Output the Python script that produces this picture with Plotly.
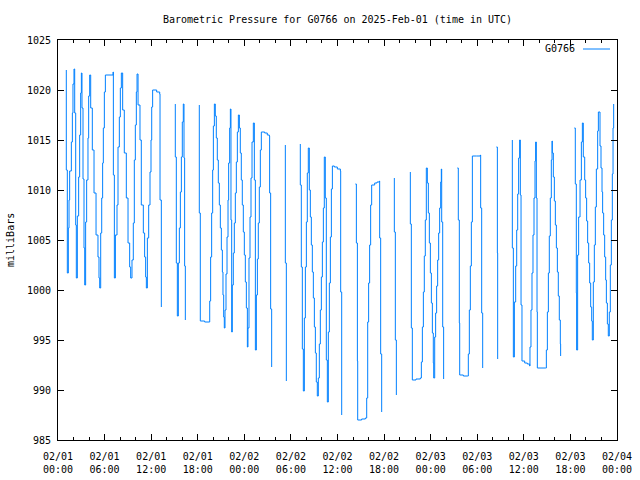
import plotly.graph_objects as go
import pandas as pd

# Time offsets (hours after 2025-02-01 00:00 UTC); None marks a gap in the record
hours = [
    1.07, 1.07, 1.20, 1.33, 1.42, 1.50, 1.72, 1.85, 1.93, 2.06, 2.15, 2.28, 2.36, 2.49, 2.66, 2.79, 2.92, 3.01,
    3.09, 3.22, 3.35, 3.44, 3.56, 3.69, 3.86, 3.95, 4.08, 4.21, 4.42, 4.64, 4.90, 5.15, 5.28, 5.37, 5.50, 5.63,
    5.75, 5.84, 5.97, 6.10, 7.09, 7.13, 7.26, 7.39, 7.60, 7.73, 7.90, 8.03, 8.16, 8.33, 8.54, 8.80, 9.02, 9.23,
    9.36, 9.53, 9.70, 9.83, 9.96, 10.09, 10.18, 10.31, 10.56, 10.73, 10.99, 11.16, 11.29, 11.38, 11.51, 11.68,
    11.85, 11.98, 12.07, 12.19, 12.71, 13.10, 13.14, 13.31, None,
    15.11, 15.11, 15.24, 15.37, 15.50, 15.63, 15.76, 15.89, 16.01, 16.14, 16.23, 16.31, 16.40, None,
    18.20, 18.20, 18.33, 18.89, 19.45, 19.54, 19.66, 19.79, 19.92, 20.01, 20.14, 20.26, 20.39, 20.52, 20.65,
    20.78, 20.91, 21.04, 21.17, 21.25, 21.34, 21.42, 21.51, 21.64, 21.77, 21.90, 21.98, 22.11, 22.20, 22.28,
    22.37, 22.45, 22.58, 22.71, 22.84, 22.97, 23.10, 23.23, 23.36, 23.48, 23.61, 23.74, 23.87, 24.00, 24.13,
    24.26, 24.39, 24.47, 24.60, 24.73, 24.86, 24.99, 25.16, 25.29, 25.42, 25.55, 25.68, 25.80, 25.93, 26.06,
    26.19, 26.62, 26.96, 27.22, 27.26, 27.39, 27.52, None,
    29.28, 29.28, 29.41, None,
    31.21, 31.21, 31.34, 31.47, 31.60, 31.73, 31.86, 31.99, 32.11, 32.24, 32.37, 32.50, 32.63, 32.76, 32.89,
    33.02, 33.15, 33.27, 33.40, 33.53, 33.66, 33.79, 33.92, 34.05, 34.18, 34.30, 34.43, 34.56, 34.69, 34.82,
    34.95, 35.08, 35.21, 35.34, 35.59, 35.98, 36.37, 36.41, 36.54, None,
    38.30, 38.43, 38.56, 38.60, 39.11, 39.59, 39.76, 39.89, 40.01, 40.14, 40.27, 40.40, 40.79, 41.09, 41.39,
    41.43, 41.56, 41.69, None,
    43.32, 43.32, 43.45, 43.58, None,
    45.38, 45.38, 45.51, 45.64, 46.11, 46.67, 46.80, 46.93, 47.06, 47.18, 47.31, 47.44, 47.57, 47.70, 47.83,
    47.96, 48.09, 48.22, 48.34, 48.39, 48.52, 48.64, 48.77, 48.90, 49.03, 49.16, 49.29, 49.37, 49.42, 49.55,
    49.67, None,
    51.43, 51.56, 51.69, 51.74, 52.21, 52.77, 52.85, 52.98, 53.11, 53.24, 53.37, 53.37, 53.88, 54.40, 54.44,
    54.57, 54.70, None,
    56.46, 56.59, 56.63, None,
    58.52, 58.52, 58.65, 58.78, 58.95, 59.08, 59.21, 59.33, 59.46, 59.55, 59.64, 59.76, 60.11, 60.45, 60.75,
    60.79, 60.92, 61.05, 61.18, 61.31, 61.44, 61.52, 61.61, 61.70, 61.74, 62.77, 62.90, 63.03, 63.16, 63.28,
    63.41, 63.54, 63.63, 63.67, 63.80, 63.93, 64.06, 64.19, 64.32, 64.44, 64.57, 64.70, 64.74, None,
    66.50, 66.63, 66.76, 66.80, 66.93, 67.06, 67.24, 67.41, 67.54, 67.66, 67.84, 67.96, 68.09, 68.22, 68.35,
    68.48, 68.61, 68.74, 68.82, 68.95, 69.08, 69.21, 69.34, 69.51, 69.60, 69.81, 69.94, 70.07, 70.15, 70.28,
    70.41, 70.54, 70.63, 70.76, 70.88, 71.01, 71.14, 71.27, 71.40, 71.49, 71.57,
]

# Barometric pressure readings (milliBars)
mbar = [
    1022.0, 1012.0, 1001.7, 1006.2, 1009.0, 1011.9, 1014.8, 1017.7, 1020.6, 1022.1, 1017.7, 1006.5, 1001.2,
    1007.4, 1011.3, 1015.5, 1019.7, 1021.7, 1018.2, 1011.1, 1004.2, 1000.5, 1006.8, 1011.0, 1015.2, 1019.4,
    1021.5, 1018.2, 1014.0, 1009.7, 1005.5, 1003.3, 1001.2, 1000.2, 1005.7, 1009.2, 1012.7, 1016.2, 1019.8,
    1021.5, 1021.8, 1011.5, 1001.2, 1005.5, 1008.5, 1014.3, 1017.3, 1020.2, 1021.7, 1018.0, 1013.7, 1009.2,
    1004.7, 1002.3, 1001.2, 1003.0, 1006.7, 1013.0, 1016.5, 1019.8, 1021.6, 1018.5, 1015.0, 1008.5, 1005.7,
    1003.3, 1001.3, 1000.2, 1005.2, 1008.5, 1011.8, 1015.0, 1018.3, 1020.0, 1019.8, 1019.6, 1009.0, 998.3, None,
    1018.6, 1013.3, 1002.7, 997.4, 1002.7, 1006.2, 1009.8, 1013.3, 1016.8, 1018.6, 1013.2, 1002.4, 997.0, None,
    1018.5, 1007.7, 996.9, 996.8, 996.8, 998.9, 1003.3, 1007.7, 1012.0, 1016.4, 1018.6, 1017.4, 1015.2, 1013.0,
    1010.7, 1008.5, 1006.2, 1004.0, 1001.8, 999.5, 997.3, 996.2, 998.0, 1001.6, 1005.3, 1009.0, 1012.7, 1016.2,
    1018.1, 1007.0, 995.8, 1000.5, 1003.7, 1006.7, 1009.7, 1012.8, 1015.8, 1017.5, 1016.2, 1013.7, 1011.0,
    1008.5, 1005.8, 1003.5, 1000.8, 998.2, 994.3, 996.2, 1003.2, 1007.3, 1011.2, 1014.8, 1016.7, 1011.0, 994.0,
    999.5, 1003.1, 1006.7, 1010.3, 1014.0, 1015.8, 1015.7, 1015.5, 1015.4, 1009.7, 998.1, 992.3, None,
    1014.5, 1002.7, 990.9, None,
    1014.6, 1010.5, 1002.3, 994.1, 989.9, 997.2, 1002.3, 1006.8, 1011.7, 1014.2, 1010.0, 1007.3, 1004.5,
    1001.8, 999.2, 996.3, 993.7, 990.8, 989.4, 991.2, 994.6, 998.0, 1001.3, 1004.8, 1008.2, 1013.3, 1009.2,
    993.0, 988.8, 995.8, 1000.7, 1005.3, 1010.1, 1012.4, 1012.3, 1012.1, 1011.9, 999.8, 987.5, None,
    1010.6, 1004.7, 992.9, 987.0, 987.1, 987.2, 989.2, 996.8, 1000.7, 1004.5, 1008.5, 1010.5, 1010.7, 1010.8,
    1010.9, 1005.2, 993.6, 987.8, None,
    1011.2, 1005.8, 995.0, 989.5, None,
    1011.8, 1006.6, 996.2, 991.0, 991.1, 991.2, 992.8, 996.3, 999.8, 1003.4, 1007.0, 1012.2, 1010.7, 1007.7,
    1004.7, 1001.7, 998.7, 995.7, 992.7, 991.2, 995.3, 997.7, 1000.4, 1003.0, 1005.7, 1008.2, 1010.8, 1012.1,
    1006.8, 996.3, 991.1, None,
    1012.2, 1007.0, 996.7, 991.5, 991.4, 991.4, 993.6, 998.0, 1002.4, 1006.8, 1011.3, 1013.4, 1013.4, 1013.5,
    1008.2, 997.7, 992.2, None,
    1014.3, 1003.7, 993.1, None,
    1015.0, 1004.2, 993.3, 998.8, 1002.4, 1006.0, 1009.6, 1013.2, 1015.0, 1009.5, 998.5, 992.9, 992.7, 992.6,
    992.4, 994.3, 998.0, 1001.7, 1005.5, 1009.2, 1012.9, 1014.8, 1009.2, 997.8, 992.2, 992.2, 994.0, 997.8,
    1001.7, 1005.4, 1009.2, 1013.0, 1014.9, 1013.7, 1011.3, 1008.9, 1006.5, 1004.2, 1001.8, 999.4, 997.0,
    994.6, 993.4, None,
    1016.2, 1010.6, 999.7, 994.0, 1003.5, 1007.3, 1011.0, 1014.8, 1016.7, 1013.3, 1011.0, 1009.2, 1006.9,
    1004.7, 1002.7, 1000.7, 998.3, 996.9, 995.0, 1000.8, 1004.5, 1008.3, 1012.1, 1015.9, 1017.8, 1014.4,
    1012.2, 1009.8, 1007.7, 1005.5, 1003.3, 1001.0, 998.7, 996.6, 995.4, 997.8, 1002.5, 1007.0, 1011.6,
    1016.2, 1018.6,
]

station = "G0766"
title_text = "Barometric Pressure for G0766 on 2025-Feb-01 (time in UTC)"
y_label = "milliBars"
start = pd.Timestamp("2025-02-01 00:00")
end = pd.Timestamp("2025-02-04 00:00")
y_range = [985, 1025]

times = [start + pd.Timedelta(hours=h) if h is not None else None for h in hours]

FONT = "DejaVu Sans Mono"
BLUE = "#0080ff"

fig = go.Figure()
fig.add_trace(go.Scatter(
    x=times, y=mbar, mode="lines", name=station,
    line=dict(color=BLUE, width=1, shape="hv"),
    connectgaps=False, showlegend=False, hoverinfo="skip",
))

axis_common = dict(
    showline=True, linecolor="black", linewidth=1, mirror="allticks",
    ticks="inside", ticklen=6, tickwidth=1, tickcolor="black",
    showgrid=False, zeroline=False,
    tickfont=dict(family=FONT, size=10, color="black"),
)

fig.update_xaxes(
    type="date", range=[start, end],
    tickmode="linear", tick0=start, dtick=6 * 3600 * 1000,
    tickformat="%m/%d<br>%H:%M",
    ticklabelstandoff=7,
    minor=dict(dtick=2 * 3600 * 1000, ticklen=3, ticks="inside", tickcolor="black", showgrid=False),
    **axis_common,
)
fig.update_yaxes(
    range=y_range, tickmode="linear", tick0=985, dtick=5,
    ticklabelstandoff=4,
    **axis_common,
)

# legend: text then line sample (gnuplot style)
fig.add_annotation(
    text=station, xref="paper", yref="paper", x=0.9284, y=0.9775,
    xanchor="right", yanchor="middle", showarrow=False,
    font=dict(family=FONT, size=10, color="black"),
)
fig.add_shape(
    type="line", xref="paper", yref="paper", x0=0.9392, x1=0.9875, y0=0.9775, y1=0.9775,
    line=dict(color=BLUE, width=1),
)
fig.add_annotation(
    text=y_label, xref="paper", yref="paper", x=-0.0859, y=0.5,
    xanchor="center", yanchor="middle", textangle=-90, showarrow=False,
    font=dict(family=FONT, size=10, color="black"),
)

fig.update_layout(
    width=640, height=480,
    margin=dict(l=58, r=23, t=40, b=40, autoexpand=False),
    paper_bgcolor="white", plot_bgcolor="white",
    title=dict(text=title_text, x=0.5, xref="paper", xanchor="center",
               y=1 - 19 / 480, yref="container", yanchor="middle",
               font=dict(family=FONT, size=10, color="black")),
    showlegend=False,
)

fig.write_html(
    "out.html",
    config={"displayModeBar": False, "staticPlot": True},
    post_script="document.body.style.margin='0';document.body.style.overflow='hidden';",
)
